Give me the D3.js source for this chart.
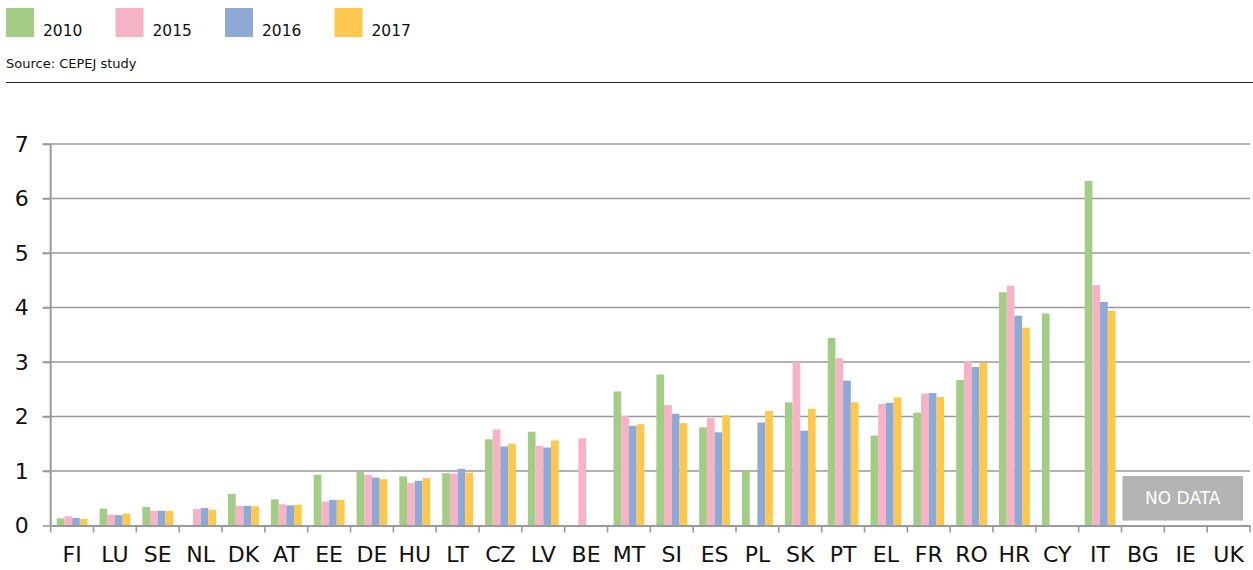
<!DOCTYPE html>
<html>
<head>
<meta charset="utf-8">
<script src="https://cdn.jsdelivr.net/npm/d3@7"></script>
<style>
  body { margin: 0; background: #fff; }
  text { font-family: "DejaVu Sans", sans-serif; fill: #111; }
</style>
</head>
<body>
<script>
// countries in chart order
const countries = ["FI","LU","SE","NL","DK","AT","EE","DE","HU","LT","CZ","LV","BE","MT","SI","ES","PL","SK","PT","EL","FR","RO","HR","CY","IT","BG","IE","UK"];
const years = ["2010", "2015", "2016", "2017"];
const colors = ["#a3cd87", "#f6b3c5", "#8fa9d6", "#fec84f"];

// null = no bar
const v2010 = [0.13,0.31,0.34,null,0.58,0.48,0.93,0.98,0.90,0.96,1.58,1.72,null,2.46,2.77,1.80,1.01,2.26,3.44,1.65,2.07,2.67,4.28,3.89,6.32,null,null,null];
const v2015 = [0.17,0.20,0.27,0.30,0.36,0.39,0.44,0.93,0.78,0.95,1.76,1.46,1.60,2.01,2.21,1.97,null,3.00,3.07,2.23,2.42,3.02,4.40,null,4.41,null,null,null];
const v2016 = [0.14,0.19,0.27,0.32,0.36,0.37,0.47,0.88,0.82,1.04,1.45,1.43,null,1.83,2.05,1.71,1.89,1.74,2.66,2.25,2.43,2.91,3.85,null,4.10,null,null,null];
const v2017 = [0.12,0.22,0.27,0.29,0.35,0.38,0.47,0.85,0.87,0.97,1.50,1.56,null,1.86,1.88,2.02,2.10,2.14,2.26,2.35,2.36,2.98,3.63,null,3.94,null,null,null];
const series = [v2010, v2015, v2016, v2017];
const yTicks = [0,1,2,3,4,5,6,7];
const noData = ["BG", "IE", "UK"];

const W = 1253, H = 570;
const svg = d3.select("body").append("svg").attr("width", W).attr("height", H);

// legend
const leg = svg.append("g");
years.forEach((yr, i) => {
  const lx = 6 + i * 109.5;
  leg.append("rect").attr("x", lx).attr("y", 8).attr("width", 28).attr("height", 29).attr("fill", colors[i]);
  leg.append("text").attr("x", lx + 37).attr("y", 36).attr("font-size", 15.5).text(yr);
});
svg.append("text").attr("x", 6).attr("y", 68).attr("font-size", 13).text("Source: CEPEJ study");
svg.append("line").attr("x1", 6).attr("x2", W).attr("y1", 82.5).attr("y2", 82.5).attr("stroke", "#222").attr("stroke-width", 1);

// scales
const pLeft = 50.7, pRight = 1250, pTop = 144, pBottom = 525.5;
const x0 = d3.scaleBand().domain(countries).range([pLeft, pRight]).padding(0);
const x1 = d3.scaleBand().domain(years).range([6, x0.bandwidth() - 6]).padding(0);
const y = d3.scaleLinear().domain([0, 7]).range([pBottom, pTop]);

// gridlines
svg.append("g")
  .selectAll("line").data(yTicks.slice(1)).enter().append("line")
  .attr("x1", pLeft - 8).attr("x2", pRight)
  .attr("y1", d => y(d)).attr("y2", d => y(d))
  .attr("stroke", "#9a9a9a").attr("stroke-width", 1.6);

// y axis
const yAxis = d3.axisLeft(y).tickValues(yTicks).tickSize(8).tickPadding(14).tickFormat(d3.format("d"));
const ga = svg.append("g").attr("transform", "translate(" + pLeft + ",0)").call(yAxis);
ga.select(".domain").attr("stroke", "#9a9a9a").attr("stroke-width", 2).attr("d", "M0," + pTop + "V" + pBottom);
ga.selectAll(".tick line").attr("stroke", "#9a9a9a").attr("stroke-width", 1.6);
ga.selectAll(".tick text").attr("font-size", 22).attr("font-family", "DejaVu Sans, sans-serif").attr("fill", "#111");

// bars
const rows = [];
countries.forEach((c, ci) => {
  series.forEach((s, si) => {
    if (s[ci] != null) rows.push({ c: c, yr: years[si], v: s[ci], col: colors[si] });
  });
});
svg.append("g").selectAll("rect").data(rows).enter().append("rect")
  .attr("x", d => x0(d.c) + x1(d.yr))
  .attr("width", x1.bandwidth())
  .attr("y", d => y(d.v))
  .attr("height", d => y(0) - y(d.v))
  .attr("fill", d => d.col);

// no data box
const nx = x0(noData[0]) + 1, nx2 = x0(noData[noData.length - 1]) + x0.bandwidth() - 7;
svg.append("rect").attr("x", nx).attr("y", y(0.91)).attr("width", nx2 - nx).attr("height", y(0.09) - y(0.91)).attr("fill", "#b3b3b3");
svg.append("text").attr("x", (nx + nx2) / 2).attr("y", (y(0.91) + y(0.09)) / 2 + 6)
  .attr("text-anchor", "middle").attr("font-size", 17).style("fill", "#fff").text("NO DATA");

// x axis
const xAxis = d3.axisBottom(x0).tickSize(0).tickPadding(21);
const gx = svg.append("g").attr("transform", "translate(0," + pBottom + ")").call(xAxis);
gx.select(".domain").attr("stroke", "#9a9a9a").attr("stroke-width", 2);
gx.selectAll(".tick text").attr("font-size", 22).attr("font-family", "DejaVu Sans, sans-serif").attr("fill", "#111");
// tick marks between categories
const bounds = countries.map(c => x0(c)).concat([pRight]);
gx.selectAll(".sep").data(bounds).enter().append("line").attr("class", "sep")
  .attr("x1", d => d).attr("x2", d => d).attr("y1", 0).attr("y2", 7)
  .attr("stroke", "#9a9a9a").attr("stroke-width", 1.6);
</script>
</body>
</html>
